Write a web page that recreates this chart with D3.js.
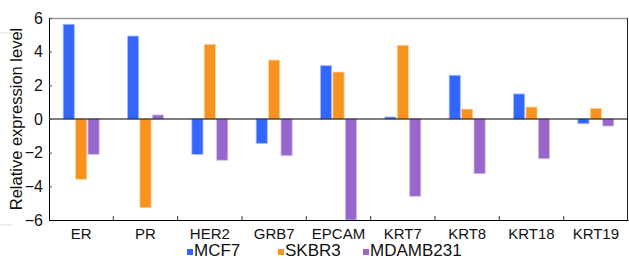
<!DOCTYPE html>
<html>
<head>
<meta charset="utf-8">
<script src="https://cdn.jsdelivr.net/npm/d3@7"></script>
<style>
  body { margin: 0; background: #fff; }
  svg { display: block; font-family: "Liberation Sans", Arial, sans-serif; }
</style>
</head>
<body>
<div id="chart"></div>
<script>
const svgWidth = 629
const svgHeight = 260

// data
const genes = ["ER", "PR", "HER2", "GRB7", "EPCAM", "KRT7", "KRT8", "KRT18", "KRT19"]
const seriesNames = ["MCF7", "SKBR3", "MDAMB231"]
const mcf7 = [5.63, 4.93, -2.1, -1.45, 3.17, 0.12, 2.6, 1.49, -0.28]
const skbr3 = [-3.58, -5.27, 4.44, 3.5, 2.79, 4.38, 0.59, 0.71, 0.63]
const mdamb231 = [-2.1, 0.24, -2.45, -2.18, -6.0, -4.59, -3.25, -2.36, -0.42]
const yTicks = [-6, -4, -2, 0, 2, 4, 6]

const colors = ["#3366ff", "#f7931e", "#9966cc"]
const edgeColors = ["#a9c0ff", "#fcd3a0", "#d3c0ea"]

let margin = { top: 18, right: 1, bottom: 40, left: 49 }
let width = svgWidth - margin.left - margin.right
let height = svgHeight - margin.top - margin.bottom

let svg = d3.select("#chart")
  .append("svg")
  .attr("width", svgWidth)
  .attr("height", svgHeight)

// faint artefacts at the left edge of the original image
svg.append("rect").attr("x", 0).attr("y", 32).attr("width", 12).attr("height", 2).attr("fill", "#eeeeee")
svg.append("rect").attr("x", 0).attr("y", 224).attr("width", 12).attr("height", 2).attr("fill", "#eeeeee")

let chartGroup = svg.append("g")
  .attr("transform", `translate(${margin.left}, ${margin.top})`)

let x0 = d3.scaleBand().domain(genes).range([0, width])
let x1 = d3.scaleBand().domain(seriesNames).range([0, 36]).paddingInner(0.1)
let y = d3.scaleLinear().domain([-6, 6]).range([height, 0])

// frame
chartGroup.append("line")
  .attr("x1", 0).attr("x2", width).attr("y1", 0.5).attr("y2", 0.5)
  .attr("stroke", "#999").attr("stroke-width", 1.5)
chartGroup.append("line")
  .attr("x1", width - 0.5).attr("x2", width - 0.5).attr("y1", 0).attr("y2", height)
  .attr("stroke", "#222").attr("stroke-width", 1)

let rows = genes.map((g, i) => ({ gene: g, values: [mcf7[i], skbr3[i], mdamb231[i]] }))

let groups = chartGroup.selectAll(".gene")
  .data(rows)
  .enter()
  .append("g")
  .attr("transform", d => `translate(${x0(d.gene) + (x0.bandwidth() - 36) / 2}, 0)`)

groups.selectAll("rect")
  .data(d => d.values.map((v, k) => ({ name: seriesNames[k], k: k, v: v })))
  .enter()
  .append("rect")
  .attr("x", d => x1(d.name))
  .attr("width", x1.bandwidth())
  .attr("y", d => y(Math.max(0, d.v)))
  .attr("height", d => Math.abs(y(d.v) - y(0)))
  .attr("fill", d => colors[d.k])
  .attr("stroke", d => edgeColors[d.k])
  .attr("stroke-width", 0.8)

// zero line
chartGroup.append("line")
  .attr("x1", 0).attr("x2", width)
  .attr("y1", y(0)).attr("y2", y(0))
  .attr("stroke", "#000").attr("stroke-width", 1.2)

// axes
let leftAxis = d3.axisLeft(y).tickValues(yTicks).tickSizeInner(-3).tickSizeOuter(0).tickPadding(6)
let yAxis = chartGroup.append("g").call(leftAxis)
yAxis.select(".domain").attr("stroke", "#000")
yAxis.selectAll(".tick line").attr("stroke", "#555")
yAxis.selectAll("text").attr("font-size", "16px").attr("fill", "#111")
  .attr("font-family", "Liberation Sans, Arial, sans-serif")

let bottomAxis = d3.axisBottom(x0).tickSize(0).tickPadding(8)
let xAxis = chartGroup.append("g")
  .attr("transform", `translate(0, ${height})`)
  .call(bottomAxis)
xAxis.select(".domain").attr("stroke", "#000")
xAxis.selectAll("text").attr("font-size", "15px").attr("fill", "#111")
  .attr("font-family", "Liberation Sans, Arial, sans-serif")

// category divider ticks (pointing up into the plot)
chartGroup.selectAll(".divider")
  .data(genes.slice(1))
  .enter()
  .append("line")
  .attr("x1", d => x0(d)).attr("x2", d => x0(d))
  .attr("y1", height).attr("y2", height - 4)
  .attr("stroke", "#333")

// y label
svg.append("text")
  .attr("transform", `translate(22, ${margin.top + height / 2}) rotate(-90)`)
  .attr("text-anchor", "middle")
  .attr("font-size", "16.5px")
  .attr("fill", "#111")
  .text("Relative expression level")

// legend
let legendX = [187, 278, 363]
let legend = svg.selectAll(".legend")
  .data(seriesNames)
  .enter()
  .append("g")
  .attr("transform", (d, i) => `translate(${legendX[i]}, 249)`)

legend.append("rect")
  .attr("width", 6).attr("height", 6)
  .attr("fill", (d, i) => colors[i])

legend.append("text")
  .attr("x", 7).attr("y", 7)
  .attr("font-size", "17px")
  .attr("fill", "#111")
  .text(d => d)
</script>
</body>
</html>
